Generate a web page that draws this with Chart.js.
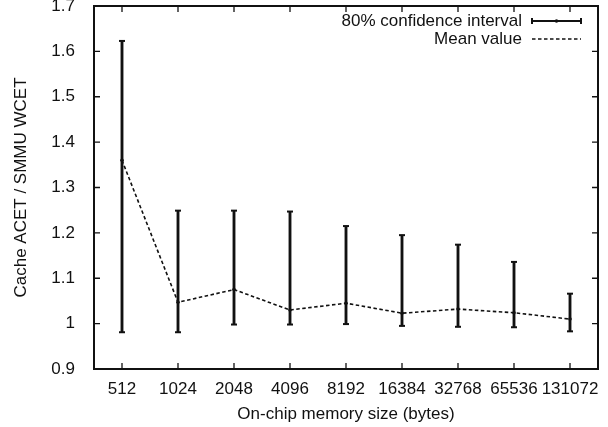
<!DOCTYPE html>
<html>
<head>
<meta charset="utf-8">
<script src="https://cdn.jsdelivr.net/npm/chart.js@4.4.1/dist/chart.umd.min.js"></script>
<style>
html,body{margin:0;padding:0;background:#fff;}
#wrap{width:608px;height:427px;}
</style>
</head>
<body>
<div id="wrap"><canvas id="c" width="608" height="427"></canvas></div>
<script>
// ---- data ----
const categories = ['512','1024','2048','4096','8192','16384','32768','65536','131072'];
const meanValues = [1.360, 1.047, 1.075, 1.030, 1.045, 1.023, 1.032, 1.024, 1.010];
const ciLow      = [0.981, 0.981, 0.998, 0.998, 0.999, 0.995, 0.993, 0.992, 0.983];
const ciHigh     = [1.623, 1.249, 1.249, 1.247, 1.215, 1.195, 1.174, 1.136, 1.066];
const yTicks     = [0.9, 1.0, 1.1, 1.2, 1.3, 1.4, 1.5, 1.6, 1.7];
const legendLabels = ['80% confidence interval', 'Mean value'];
const xTitle = 'On-chip memory size (bytes)';
const yTitle = 'Cache ACET / SMMU WCET';

const FONT = '"Liberation Sans", Arial, Helvetica, sans-serif';
const FS = 17;
const INK = '#111';

const framePlugin = {
  id: 'frame',
  afterDraw(chart) {
    const ctx = chart.ctx;
    const a = chart.chartArea;
    const xs = chart.scales.x, ys = chart.scales.y;
    ctx.save();
    ctx.strokeStyle = INK;
    // inward ticks
    ctx.lineWidth = 1.3;
    const tl = 6;
    ctx.beginPath();
    categories.forEach((c, i) => {
      const px = xs.getPixelForValue(i);
      ctx.moveTo(px, a.bottom); ctx.lineTo(px, a.bottom - tl);
      ctx.moveTo(px, a.top); ctx.lineTo(px, a.top + tl);
    });
    yTicks.forEach(v => {
      const py = ys.getPixelForValue(v);
      ctx.moveTo(a.left, py); ctx.lineTo(a.left + tl, py);
      ctx.moveTo(a.right, py); ctx.lineTo(a.right - tl, py);
    });
    ctx.stroke();
    // frame
    ctx.lineWidth = 2;
    ctx.strokeRect(a.left, a.top, a.right - a.left, a.bottom - a.top);

    // legend (gnuplot style: text right-aligned, sample to its right)
    const tx = a.right - 76, sx0 = a.right - 66, sx1 = a.right - 17;
    const ly = [a.top + 15, a.top + 33];
    ctx.fillStyle = INK;
    ctx.font = FS + 'px ' + FONT;
    ctx.textAlign = 'right';
    ctx.textBaseline = 'middle';
    legendLabels.forEach((t, i) => ctx.fillText(t, tx, ly[i]));
    // error bar sample
    ctx.lineWidth = 2;
    ctx.beginPath();
    ctx.moveTo(sx0, ly[0]); ctx.lineTo(sx1, ly[0]);
    ctx.moveTo(sx0, ly[0] - 3); ctx.lineTo(sx0, ly[0] + 3);
    ctx.moveTo(sx1, ly[0] - 3); ctx.lineTo(sx1, ly[0] + 3);
    ctx.stroke();
    ctx.beginPath();
    ctx.arc((sx0 + sx1) / 2, ly[0], 1.8, 0, Math.PI * 2);
    ctx.fill();
    // mean sample
    ctx.lineWidth = 1.6;
    ctx.setLineDash([3.5, 2.5]);
    ctx.beginPath();
    ctx.moveTo(sx0, ly[1]); ctx.lineTo(sx1, ly[1]);
    ctx.stroke();
    ctx.restore();
  }
};

new Chart(document.getElementById('c'), {
  type: 'bar',
  data: {
    labels: categories,
    datasets: [
      {
        type: 'line',
        label: legendLabels[1],
        data: meanValues,
        borderColor: INK,
        backgroundColor: INK,
        borderWidth: 1.6,
        borderDash: [3.5, 2.5],
        pointRadius: 1.8,
        pointBorderWidth: 0,
        pointBackgroundColor: INK,
        tension: 0,
        order: 0
      },
      {
        type: 'line',
        label: 'cap-high',
        data: ciHigh,
        showLine: false,
        pointStyle: 'line',
        pointRadius: 3,
        borderColor: INK,
        pointBorderWidth: 2,
        order: 1
      },
      {
        type: 'line',
        label: 'cap-low',
        data: ciLow,
        showLine: false,
        pointStyle: 'line',
        pointRadius: 3,
        borderColor: INK,
        pointBorderWidth: 2,
        order: 1
      },
      {
        type: 'bar',
        label: legendLabels[0],
        data: ciLow.map((lo, i) => [lo, ciHigh[i]]),
        backgroundColor: INK,
        borderWidth: 0,
        barThickness: 2.2,
        order: 2
      }
    ]
  },
  options: {
    responsive: false,
    animation: false,
    devicePixelRatio: 1,
    layout: { padding: { top: 6, right: 10, left: 0, bottom: 0 } },
    plugins: { legend: { display: false }, tooltip: { enabled: false } },
    scales: {
      x: {
        type: 'category',
        offset: true,
        grid: { display: false },
        border: { display: false },
        ticks: { color: INK, font: { family: FONT, size: FS }, padding: 2, maxRotation: 0, autoSkip: false },
        title: { display: true, text: xTitle, color: INK, font: { family: FONT, size: FS }, padding: { top: 0, bottom: 2 } },
        afterFit(s) { s.height = 58; s.paddingLeft = 0; s.paddingRight = 0; }
      },
      y: {
        min: 0.9,
        max: 1.7,
        grid: { display: false },
        border: { display: false },
        afterBuildTicks(s) { s.ticks = yTicks.map(v => ({ value: v })); },
        ticks: {
          color: INK,
          font: { family: FONT, size: FS },
          padding: 11,
          callback: v => String(Number(v.toFixed(1)))
        },
        title: { display: true, text: yTitle, color: INK, font: { family: FONT, size: FS }, padding: { top: 11, bottom: 0 } },
        afterFit(s) { s.width = 94; s.paddingTop = 0; s.paddingBottom = 0; }
      }
    }
  },
  plugins: [framePlugin]
});
</script>
</body>
</html>
